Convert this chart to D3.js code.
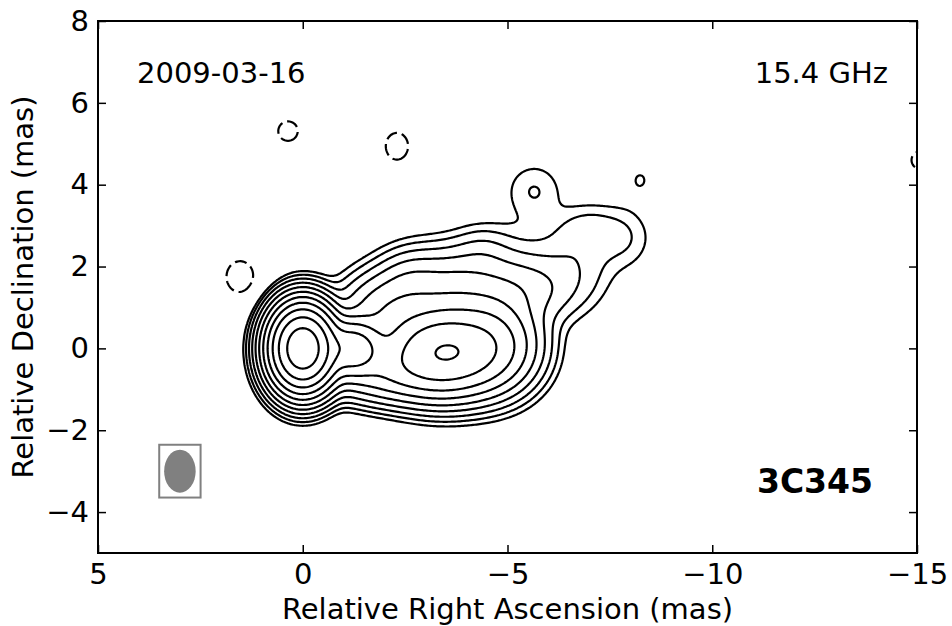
<!DOCTYPE html>
<html>
<head>
<meta charset="utf-8">
<script src="https://cdn.jsdelivr.net/npm/d3@7"></script>
<style>
  body { margin: 0; background: #fff; }
  svg { display: block; }
  text { font-family: "DejaVu Sans", sans-serif; fill: #000; }
</style>
</head>
<body>
<svg id="chart" width="952" height="626"></svg>
<script>
// Restored image of 3C345 at 15.4 GHz described as elliptical Gaussian
// components (offsets in mas from the core, peaks in mJy/beam).
const compRA     = [0.00, -1.20, -3.45, -4.60, -2.00, -3.60, -5.40, -5.60, -6.70, -7.00, -7.85, -5.65, -8.24, -2.10, -2.60, -4.40,  0.36, -2.30,  1.53, -15.08];
const compDec    = [0.00,  0.00, -0.10,  0.10,  0.90,  1.30,  1.45,  2.50,  2.00,  2.90,  2.70,  3.85,  4.12, -0.55,  1.55,  2.30,  5.31,  4.94,  1.75,   4.60];
const compPeak   = [4250,   500,   625,   180,    55,    55,    24,   2.5,   6.0,   5.5,   4.5,  5.05,   2.6,   110,    18,   7.0,  -2.8,  -2.9,  -3.0,   -2.8];
const compSigRA  = [0.377, 0.40,  0.75,  0.60,  0.60,  0.90,  0.75,  1.00,  0.55,  0.50,  0.45,  0.45,  0.30,  0.80,  0.45,  0.45,  0.50,  0.50,  0.55,   0.45];
const compSigDec = [0.490, 0.36,  0.54,  0.60,  0.50,  0.60,  0.50,  0.55,  0.60,  0.40,  0.50,  0.45,  0.35,  0.40,  0.45,  0.40,  0.50,  0.60,  0.63,   0.45];

// Contours: lowest level times powers of two; negative contour dashed
const contourBase = 2.5;                    // mJy/beam
const contourSteps = [1, 2, 4, 8, 16, 32, 64, 128, 256, 512, 1024];
const negativeSteps = [1];

// Restoring beam (FWHM in mas) and where it is drawn
const beamMinor = 0.77, beamMajor = 1.05;
const beamRA = 3.0, beamDec = -3.0;

const xTicks = [5, 0, -5, -10, -15];
const yTicks = [-4, -2, 0, 2, 4, 6, 8];
const xDomain = [5, -15];
const yDomain = [-5, 8];

const epochLabel = "2009-03-16";
const freqLabel = "15.4 GHz";
const sourceLabel = "3C345";

// ---- layout ----
const svg = d3.select("#chart");
const margin = { left: 98, right: 35, top: 21, bottom: 73 };
const W = 952, H = 626;
const x = d3.scaleLinear().domain(xDomain).range([margin.left, W - margin.right]);
const y = d3.scaleLinear().domain(yDomain).range([H - margin.bottom, margin.top]);

svg.append("defs").append("clipPath").attr("id", "plotClip")
  .append("rect")
  .attr("x", x(xDomain[0])).attr("y", y(yDomain[1]))
  .attr("width", x(xDomain[1]) - x(xDomain[0]))
  .attr("height", y(yDomain[0]) - y(yDomain[1]));

// ---- brightness grid ----
const step = 0.04;
const ra0 = 5.6, ra1 = -15.6, dec0 = 8.6, dec1 = -5.6;
const nx = Math.round((ra0 - ra1) / step) + 1;
const ny = Math.round((dec0 - dec1) / step) + 1;
const field = new Float64Array(nx * ny);
for (let j = 0; j < ny; j++) {
  const dec = dec0 - j * step;
  for (let i = 0; i < nx; i++) {
    const ra = ra0 - i * step;
    let v = 0;
    for (let k = 0; k < compRA.length; k++) {
      const dx = (ra - compRA[k]) / compSigRA[k];
      const dy = (dec - compDec[k]) / compSigDec[k];
      const q = dx * dx + dy * dy;
      if (q < 60) v += compPeak[k] * Math.exp(-0.5 * q);
    }
    field[j * nx + i] = v;
  }
}
const negField = field.map(v => -v);

// grid coordinates -> sky offsets -> pixels
const gridToPx = d3.geoTransform({
  point(gx, gy) {
    const ra = ra0 - (gx - 0.5) * step;
    const dec = dec0 - (gy - 0.5) * step;
    this.stream.point(x(ra), y(dec));
  }
});
const path = d3.geoPath(gridToPx);

const posContours = d3.contours().size([nx, ny])
  .thresholds(contourSteps.map(s => s * contourBase))(field);
const negContours = d3.contours().size([nx, ny])
  .thresholds(negativeSteps.map(s => s * contourBase))(negField);

const plot = svg.append("g").attr("clip-path", "url(#plotClip)");
plot.selectAll("path.pos").data(posContours).join("path")
  .attr("class", "pos")
  .attr("d", path)
  .attr("fill", "none").attr("stroke", "#000")
  .attr("stroke-width", 2.2).attr("stroke-linejoin", "round");
plot.selectAll("path.neg").data(negContours).join("path")
  .attr("class", "neg")
  .attr("d", path)
  .attr("fill", "none").attr("stroke", "#000")
  .attr("stroke-width", 2.2).attr("stroke-dasharray", "12,5");

// ---- beam ----
const bx = x(beamRA), by = y(beamDec);
const brx = Math.abs(x(beamRA - beamMinor / 2) - bx);
const bry = Math.abs(y(beamDec + beamMajor / 2) - by);
const pad = Math.abs(x(0.12) - x(0));
svg.append("rect")
  .attr("x", bx - brx - pad).attr("y", by - bry - pad)
  .attr("width", 2 * (brx + pad)).attr("height", 2 * (bry + pad))
  .attr("fill", "none").attr("stroke", "#808080").attr("stroke-width", 2);
svg.append("ellipse")
  .attr("cx", bx).attr("cy", by).attr("rx", brx).attr("ry", bry)
  .attr("fill", "#808080");

// ---- axes ----
const tickLen = 8;
const fontSize = 29;
const gB = svg.append("g").attr("transform", `translate(0,${y(yDomain[0])})`)
  .call(d3.axisBottom(x).tickValues(xTicks).tickSize(-tickLen).tickPadding(10));
const gT = svg.append("g").attr("transform", `translate(0,${y(yDomain[1])})`)
  .call(d3.axisTop(x).tickValues(xTicks).tickSize(-tickLen).tickFormat(""));
const gL = svg.append("g").attr("transform", `translate(${x(xDomain[0])},0)`)
  .call(d3.axisLeft(y).tickValues(yTicks).tickSize(-tickLen).tickPadding(9));
const gR = svg.append("g").attr("transform", `translate(${x(xDomain[1])},0)`)
  .call(d3.axisRight(y).tickValues(yTicks).tickSize(-tickLen).tickFormat(""));
[gB, gT, gL, gR].forEach(g => {
  g.select(".domain").remove();
  g.selectAll(".tick line").attr("stroke", "#000").attr("stroke-width", 1.5);
  g.selectAll(".tick text").attr("font-size", fontSize)
    .attr("font-family", "DejaVu Sans, sans-serif").attr("fill", "#000");
});

svg.append("rect")
  .attr("x", x(xDomain[0])).attr("y", y(yDomain[1]))
  .attr("width", x(xDomain[1]) - x(xDomain[0]))
  .attr("height", y(yDomain[0]) - y(yDomain[1]))
  .attr("fill", "none").attr("stroke", "#000").attr("stroke-width", 2);

// ---- labels ----
svg.append("text")
  .attr("x", (x(xDomain[0]) + x(xDomain[1])) / 2).attr("y", 619)
  .attr("text-anchor", "middle").attr("font-size", fontSize)
  .text("Relative Right Ascension (mas)");
svg.append("text")
  .attr("transform", `translate(33,${(y(yDomain[0]) + y(yDomain[1])) / 2}) rotate(-90)`)
  .attr("text-anchor", "middle").attr("font-size", fontSize)
  .text("Relative Declination (mas)");
svg.append("text").attr("x", 137).attr("y", 83)
  .attr("font-size", fontSize).text(epochLabel);
svg.append("text").attr("x", 888).attr("y", 83)
  .attr("text-anchor", "end").attr("font-size", fontSize).text(freqLabel);
svg.append("text").attr("x", 873).attr("y", 493)
  .attr("text-anchor", "end").attr("font-size", 33).attr("font-weight", "bold")
  .text(sourceLabel);
</script>
</body>
</html>
